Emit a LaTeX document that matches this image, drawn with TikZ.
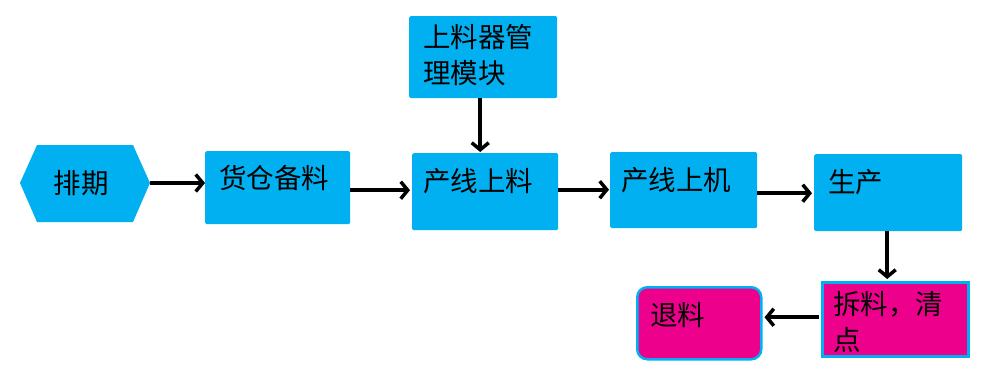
\documentclass[tikz,border=0pt]{standalone}
\usepackage{fontspec}
\setmainfont{Noto Sans CJK SC}
\usetikzlibrary{arrows.meta,calc}
\definecolor{boxcyan}{HTML}{00B0F0}
\definecolor{boxmag}{HTML}{EC008C}
\tikzset{
  cbox/.style={fill=boxcyan, draw=none, rounded corners=1.5pt, anchor=north west, inner sep=0pt},
  mbox/.style={fill=boxmag, draw=boxcyan, line width=2.5pt, anchor=north west, inner sep=0pt},
  lbl/.style={anchor=west, inner sep=0pt, font=\fontsize{27.5}{36}\selectfont, text=black, align=left},
  arr/.style={line width=3.8pt, -{Straight Barb[length=7pt,width=17pt,line width=3.5pt]}}
}
\begin{document}
\begin{tikzpicture}[x=1pt,y=-1pt]
\useasboundingbox (0,0) rectangle (986,386);
\fill[white] (0,0) rectangle (986,386);
% hexagon
\fill[boxcyan] (20,183) -- (37,145) -- (133,145) -- (150,183) -- (133,222) -- (37,222) -- cycle;
\coordinate (hexR) at (150,183);
\node[lbl, anchor=center] (t0) at (81,183) {排期};
% boxes
\node[cbox, minimum width=145pt, minimum height=73pt] (b1) at (205,151) {};
\node[cbox, minimum width=148pt, minimum height=82pt] (top) at (409,16) {};
\node[cbox, minimum width=146pt, minimum height=77pt] (b2) at (412,153) {};
\node[cbox, minimum width=147pt, minimum height=76pt] (b3) at (610,152) {};
\node[cbox, minimum width=148pt, minimum height=77pt] (b4) at (814,154) {};
\node[mbox, minimum width=146pt, minimum height=74pt] (b5) at (821,281) {};
\node[mbox, minimum width=124pt, minimum height=72pt, rounded corners=10pt] (b6) at (636,286) {};
% labels
\node[lbl] (t1) at (219,178) {货仓备料};
\node[lbl, anchor=north west] (ttop) at (423,24) {上料器管\\理模块};
\node[lbl] (t2) at (423,181) {产线上料};
\node[lbl] (t3) at (621,180) {产线上机};
\node[lbl] (t4) at (828,182) {生产};
\node[lbl, anchor=north west] (t5) at (833,291) {拆料，清\\点};
\node[lbl] (t6) at (650,315) {退料};
% arrows
\draw[arr] (hexR) -- (hexR -| b1.west);
\draw[arr] ($(b1.east)+(0,2.5)$) -- ($(b1.east -| b2.west)+(-2,2.5)$);
\draw[arr] ($(b2.east)+(0,-2)$) -- ($(b2.east -| b3.west)+(-1,-2)$);
\draw[arr] ($(b3.east)+(0,3)$) -- ($(b3.east -| b4.west)+(-2,3)$);
\draw[arr] ($(top.south)+(-3,0)$) -- ($(top.south |- b2.north)+(-3,-1)$);
\draw[arr] ($(b4.south)+(-1,0)$) -- ($(b4.south |- b5.north)+(-1,-2)$);
\draw[arr] ($(b5.west)+(-2,-2)$) -- ($(b5.west -| b6.east)+(2,-2)$);
\end{tikzpicture}
\end{document}
